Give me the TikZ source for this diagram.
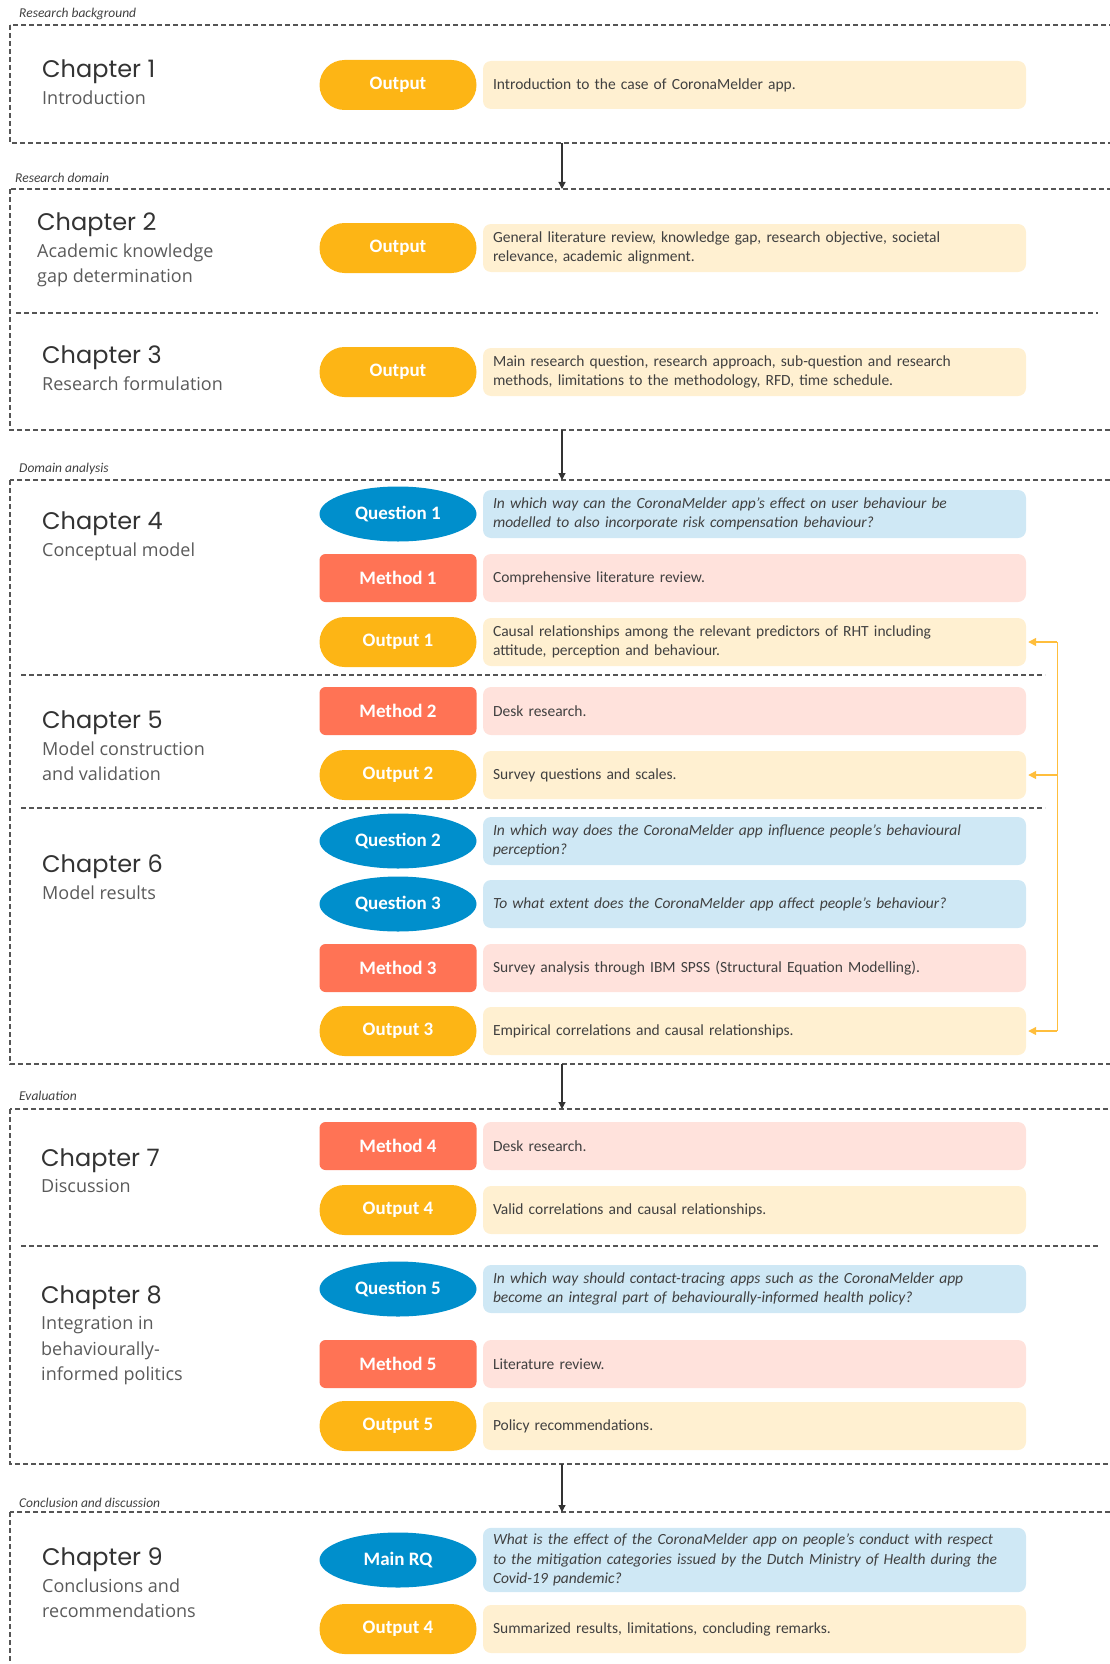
\documentclass[tikz,border=0pt]{standalone}
\usepackage{fontspec}
\setmainfont{Carlito}
\newfontfamily\chapfont{Poppins}
\newfontfamily\subfont{Open Sans}
\usepackage{xcolor}
\usepackage{tikz}
\usetikzlibrary{arrows.meta,calc,positioning,shapes.geometric}
\definecolor{dashgray}{HTML}{555555}
\definecolor{txt}{HTML}{404040}
\definecolor{subgray}{HTML}{5A5A5A}
\definecolor{outfill}{HTML}{FDB515}
\definecolor{outlight}{HTML}{FFF0D1}
\definecolor{qfill}{HTML}{008FCC}
\definecolor{qlight}{HTML}{CFE8F5}
\definecolor{mfill}{HTML}{FF7355}
\definecolor{mlight}{HTML}{FFE2DC}
\definecolor{fbline}{HTML}{FFBE3C}
\tikzset{
  secbox/.style={draw=dashgray, line width=1.1pt, dash pattern=on 5pt off 3pt},
  divider/.style={draw=dashgray, line width=1.1pt, dash pattern=on 5pt off 3pt},
  seclabel/.style={anchor=west, inner sep=0pt, text=txt, font=\fontsize{13.5}{15}\selectfont\itshape},
  chap/.style={anchor=west, inner sep=0pt, text=black!80, font=\chapfont\fontsize{24}{28}\selectfont},
  chapsub/.style={anchor=north west, inner sep=0pt, align=left, text=subgray, font=\subfont\fontsize{18}{25.5}\selectfont},
  pillbase/.style={text=white, inner sep=0pt, minimum width=157pt, font=\fontsize{19}{21}\selectfont\bfseries},
  outpill/.style={pillbase, fill=outfill, rounded corners=25pt, minimum height=50pt},
  qpill/.style={pillbase, ellipse, fill=qfill, minimum height=55pt},
  mpill/.style={pillbase, fill=mfill, rounded corners=6pt, minimum height=48pt},
  boxbase/.style={rounded corners=8pt, text width=523pt, inner xsep=10pt, inner ysep=6pt,
    minimum height=48pt, align=left, text=txt, font=\fontsize{15.5}{19.5}\selectfont},
  outbox/.style={boxbase, fill=outlight},
  qbox/.style={boxbase, fill=qlight, font=\fontsize{15.5}{19.5}\selectfont\itshape},
  mbox/.style={boxbase, fill=mlight},
  flow/.style={-{Triangle[length=7pt,width=7pt]}, line width=1.1pt, draw=black!80},
  fb/.style={line width=1.4pt, draw=fbline},
  fbarrow/.style={-{Triangle[length=8pt,width=8pt]}, line width=1.4pt, draw=fbline}
}
\newcommand{\StepRow}[5]{% name, y, kind, label, text
  \node[#3pill] (#1) at (398,#2) {#4};
  \node[#3box] (#1t) at (754.5,#2) {#5};
}
\newcommand{\ChapHead}[5]{% name, x, y, title, subtitle
  \node[chap] (#1) at (#2,#3) {#4};
  \node[chapsub, below=6pt of #1.south west, anchor=north west] (#1s) {#5};
}

\begin{document}
\begin{tikzpicture}[x=1pt, y=-1pt]
  \useasboundingbox (0,0) rectangle (1110,1664);
  \clip (0,0) rectangle (1110,1664);

  % phases
  \draw[secbox] (10,25) rectangle (1140,143);
  \draw[secbox] (10,189) rectangle (1140,430);
  \draw[secbox] (10,480) rectangle (1140,1064);
  \draw[secbox] (10,1109) rectangle (1140,1464);
  \draw[secbox] (10,1512) rectangle (1140,1700);
  \node[seclabel] (lbl1) at (19,14) {Research background};
  \node[seclabel] (lbl2) at (15,178) {Research domain};
  \node[seclabel] (lbl3) at (19,469) {Domain analysis};
  \node[seclabel] (lbl4) at (19,1096) {Evaluation};
  \node[seclabel] (lbl5) at (19,1503) {Conclusion and discussion};

  % chapter separators
  \draw[divider] (16,313) -- (1098,313);
  \draw[divider] (21,675) -- (1045,675);
  \draw[divider] (21,808) -- (1045,808);
  \draw[divider] (21,1246) -- (1098,1246);

  % links between phases
  \coordinate (p1s) at (562,143);
  \coordinate (p2n) at (562,189);
  \coordinate (p2s) at (562,430);
  \coordinate (p3n) at (562,480);
  \coordinate (p3s) at (562,1064);
  \coordinate (p4n) at (562,1109);
  \coordinate (p4s) at (562,1464);
  \coordinate (p5n) at (562,1512);
  \draw[flow] (p1s) -- (p2n);
  \draw[flow] (p2s) -- (p3n);
  \draw[flow] (p3s) -- (p4n);
  \draw[flow] (p4s) -- (p5n);

  \ChapHead{ch1}{42}{72}{Chapter 1}{Introduction}
  \ChapHead{ch2}{37}{225}{Chapter 2}{Academic knowledge\\gap determination}
  \ChapHead{ch3}{42}{358}{Chapter 3}{Research formulation}
  \ChapHead{ch4}{42}{524}{Chapter 4}{Conceptual model}
  \ChapHead{ch5}{42}{723}{Chapter 5}{Model construction\\and validation}
  \ChapHead{ch6}{42}{867}{Chapter 6}{Model results}
  \ChapHead{ch7}{41}{1161}{Chapter 7}{Discussion}
  \ChapHead{ch8}{41}{1298}{Chapter 8}{Integration in\\behaviourally-\\informed politics}
  \ChapHead{ch9}{42}{1560}{Chapter 9}{Conclusions and\\recommendations}

  \StepRow{o0}{85}{out}{Output}{Introduction to the case of CoronaMelder app.}
  \StepRow{oa}{248}{out}{Output}{General literature review, knowledge gap, research objective, societal\\relevance, academic alignment.}
  \StepRow{ob}{372}{out}{Output}{Main research question, research approach, sub-question and research\\methods, limitations to the methodology, RFD, time schedule.}
  \StepRow{q1}{514}{q}{Question 1}{In which way can the CoronaMelder app’s effect on user behaviour be\\modelled to also incorporate risk compensation behaviour?}
  \StepRow{m1}{578}{m}{Method 1}{Comprehensive literature review.}
  \StepRow{o1}{642}{out}{Output 1}{Causal relationships among the relevant predictors of RHT including\\attitude, perception and behaviour.}
  \StepRow{m2}{711}{m}{Method 2}{Desk research.}
  \StepRow{o2}{775}{out}{Output 2}{Survey questions and scales.}
  \StepRow{q2}{841}{q}{Question 2}{In which way does the CoronaMelder app influence people’s behavioural\\perception?}
  \StepRow{q3}{904}{q}{Question 3}{To what extent does the CoronaMelder app affect people’s behaviour?}
  \StepRow{m3}{968}{m}{Method 3}{Survey analysis through IBM SPSS (Structural Equation Modelling).}
  \StepRow{o3}{1031}{out}{Output 3}{Empirical correlations and causal relationships.}
  \StepRow{m4}{1146}{m}{Method 4}{Desk research.}
  \StepRow{o4}{1210}{out}{Output 4}{Valid correlations and causal relationships.}
  \StepRow{q5}{1289}{q}{Question 5}{In which way should contact-tracing apps such as the CoronaMelder app\\become an integral part of behaviourally-informed health policy?}
  \StepRow{m5}{1364}{m}{Method 5}{Literature review.}
  \StepRow{o5}{1426}{out}{Output 5}{Policy recommendations.}
  \StepRow{rq}{1560}{q}{Main RQ}{What is the effect of the CoronaMelder app on people’s conduct with respect\\to the mitigation categories issued by the Dutch Ministry of Health during the\\Covid-19 pandemic?}
  \StepRow{o9}{1629}{out}{Output 4}{Summarized results, limitations, concluding remarks.}

  % feedback to the outputs
  \draw[fb] ([xshift=31pt]o1t.east) -- ([xshift=31pt]o3t.east);
  \foreach \n in {o1t,o2t,o3t}
    \draw[fbarrow] ([xshift=31pt]\n.east) -- ([xshift=2pt]\n.east);
\end{tikzpicture}
\end{document}
